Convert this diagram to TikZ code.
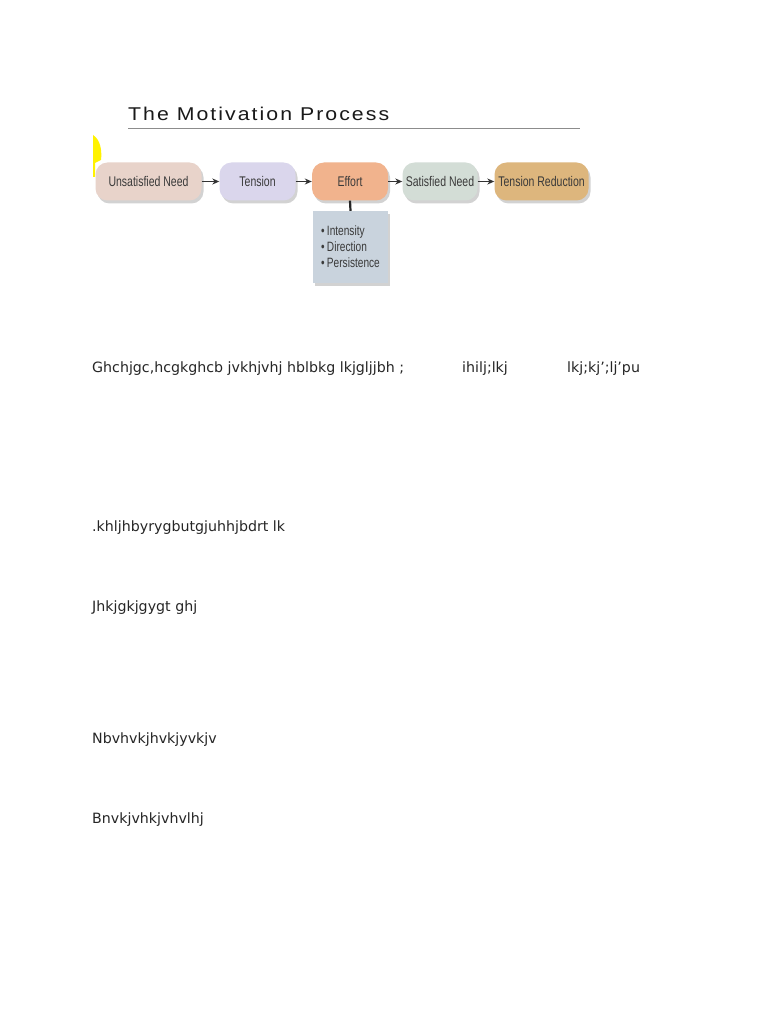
\documentclass[tikz,border=0pt]{standalone}
\usepackage{fontspec}
\setmainfont{DejaVu Sans}
\newfontfamily\cond[FakeStretch=0.75]{Liberation Sans}
\newfontfamily\titlefont[LetterSpace=11,FakeStretch=1.15]{Liberation Sans}
\usetikzlibrary{shadows,arrows.meta}
\definecolor{c1}{HTML}{E8D3CA}
\definecolor{c2}{HTML}{DAD6EC}
\definecolor{c3}{HTML}{F1B38D}
\definecolor{c4}{HTML}{D3DDD6}
\definecolor{c5}{HTML}{DDB67D}
\definecolor{c6}{HTML}{C9D3DD}
\definecolor{txt}{HTML}{3A3A3A}
\tikzset{
  procbox/.style={rounded corners=12pt, minimum height=38pt, inner sep=0pt,
    font=\cond\fontsize{14}{16}\selectfont, text=txt,
    drop shadow={opacity=0.35, shadow xshift=2pt, shadow yshift=-3pt}},
  flow/.style={draw=black!80, line width=1.3pt, -{Stealth[length=7pt,width=6pt]}},
  body/.style={anchor=base west, inner sep=0pt, font=\fontsize{14.2}{16}\selectfont, text=black!85}
}
\begin{document}
\begin{tikzpicture}[x=1pt,y=-1pt]
\useasboundingbox[fill=white] (0,0) rectangle (768,1024);
% title
\node[anchor=base west, inner sep=0pt, text=black!90, font=\titlefont\fontsize{18.5}{20}\selectfont] (title) at (128,121) {The Motivation Process};
\coordinate (l1) at (128,129);
\coordinate (l2) at (580,129);
\draw[black!45, line width=1pt] (l1) -- (l2);
% yellow mark
\fill[yellow] (93,135) .. controls (101,140) and (102,152) .. (101,160) -- (95,163) -- (95,177) -- (93,177) -- cycle;
% boxes
\node[procbox, fill=c1, minimum width=106pt] (n1) at (148.5,181.5) {Unsatisfied Need};
\node[procbox, fill=c2, minimum width=76pt] (n2) at (257.5,181.5) {Tension};
\node[procbox, fill=c3, minimum width=76pt] (n3) at (350,181.5) {Effort};
\node[procbox, fill=c4, minimum width=75pt] (n4) at (440,181.5) {Satisfied Need};
\node[procbox, fill=c5, minimum width=94pt] (n5) at (541.5,181.5) {Tension Reduction};
\draw[flow] (n1) -- (n2);
\draw[flow] (n2) -- (n3);
\draw[flow] (n3) -- (n4);
\draw[flow] (n4) -- (n5);
% effort details
\node[fill=c6, minimum width=75pt, minimum height=72pt, inner sep=0pt,
  drop shadow={opacity=0.35, shadow xshift=2pt, shadow yshift=-3pt},
  align=left, text=txt, font=\cond\fontsize{13.5}{16}\selectfont] (d) at (350.5,247) {\textbullet\,Intensity\\ \textbullet\,Direction\\ \textbullet\,Persistence};
\draw[black!85, line width=2.2pt] (n3.south) -- (d.north);
% body text
\node[body] (t1) at (92,372) {Ghchjgc,hcgkghcb jvkhjvhj hblbkg lkjgljjbh ;};
\node[body] (t2) at (462,372) {ihilj;lkj};
\node[body] (t3) at (567,372) {lkj;kj’;lj’pu};
\node[body] (t4) at (92,531) {.khljhbyrygbutgjuhhjbdrt lk};
\node[body] (t5) at (92,611) {Jhkjgkjgygt ghj};
\node[body] (t6) at (92,743) {Nbvhvkjhvkjyvkjv};
\node[body] (t7) at (92,823) {Bnvkjvhkjvhvlhj};
\end{tikzpicture}
\end{document}
